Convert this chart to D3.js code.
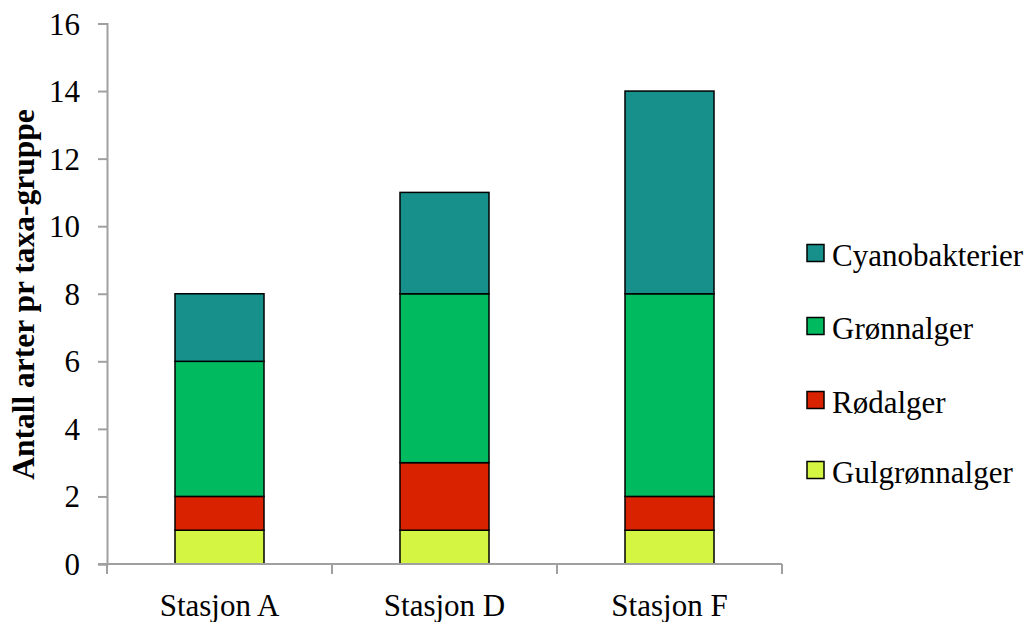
<!DOCTYPE html>
<html>
<head>
<meta charset="utf-8">
<script src="https://cdn.jsdelivr.net/npm/d3@7"></script>
<style>
  body { margin: 0; background: #fff; }
  text { font-family: "Liberation Serif", "DejaVu Serif", serif; fill: #000; }
</style>
</head>
<body>
<svg id="chart" width="1026" height="622"></svg>
<script>
const categories = ["Stasjon A", "Stasjon D", "Stasjon F"];
const seriesNames = ["Gulgrønnalger", "Rødalger", "Grønnalger", "Cyanobakterier"];
const gulgronnalger = [1, 1, 1];
const rodalger = [1, 2, 1];
const gronnalger = [4, 5, 6];
const cyanobakterier = [2, 3, 6];
const yTicks = [0, 2, 4, 6, 8, 10, 12, 14, 16];
const colors = ["#d4f542", "#d92200", "#00ba60", "#17908c"];
const yTitle = "Antall arter pr taxa-gruppe";

(function () {
const seriesValues = [gulgronnalger, rodalger, gronnalger, cyanobakterier];
const table = categories.map((c, i) => {
  const row = { cat: c };
  seriesNames.forEach((s, j) => row[s] = seriesValues[j][i]);
  return row;
});

const svg = d3.select("#chart");
const mLeft = 107, mRight = 782, mTop = 23.5, mBottom = 564;

const x = d3.scaleBand().domain(categories).range([mLeft, mRight]).paddingInner(0).paddingOuter(0);
const y = d3.scaleLinear().domain([0, 16]).range([mBottom, mTop]);

const stack = d3.stack().keys(seriesNames)(table);
const color = d3.scaleOrdinal().domain(seriesNames).range(colors);

const barW = 89;
svg.append("g").selectAll("g").data(stack).join("g")
  .attr("fill", d => color(d.key))
  .selectAll("rect").data(d => d).join("rect")
  .attr("x", d => x(d.data.cat) + x.bandwidth() / 2 - barW / 2)
  .attr("width", barW)
  .attr("y", d => y(d[1]))
  .attr("height", d => y(d[0]) - y(d[1]))
  .attr("stroke", "#000")
  .attr("stroke-width", 1.5);

// Y axis
const gy = svg.append("g").attr("transform", `translate(${mLeft},0)`)
  .call(d3.axisLeft(y).tickValues(yTicks).tickSize(9).tickPadding(18));
gy.select(".domain").attr("stroke", "#a0a0a0").attr("stroke-width", 2);
gy.selectAll(".tick line").attr("stroke", "#a0a0a0").attr("stroke-width", 2);
gy.selectAll(".tick text").style("font-family", "Liberation Serif, serif").style("font-size", "31px").attr("fill", "#000").attr("dy", "0.34em");

// X axis
const gx = svg.append("g").attr("transform", `translate(0,${mBottom})`);
gx.append("line").attr("x1", mLeft - 9).attr("x2", mRight).attr("stroke", "#a0a0a0").attr("stroke-width", 2);
const bounds = [mLeft, ...categories.map(c => x(c) + x.bandwidth())];
gx.selectAll("line.tk").data(bounds).join("line").attr("class", "tk")
  .attr("x1", d => d).attr("x2", d => d).attr("y1", 0).attr("y2", 10)
  .attr("stroke", "#a0a0a0").attr("stroke-width", 2);
gx.selectAll("text").data(categories).join("text")
  .attr("x", d => x(d) + x.bandwidth() / 2)
  .attr("y", 52)
  .attr("text-anchor", "middle")
  .style("font-size", "31px")
  .text(d => d);

// Y title
svg.append("text")
  .attr("transform", `translate(34,294.5) rotate(-90)`)
  .attr("text-anchor", "middle")
  .style("font-size", "31.5px")
  .style("font-weight", "bold")
  .text(yTitle);

// Legend
const legendItems = seriesNames.slice().reverse();
const legendY = [253, 326, 400, 470];
const lg = svg.append("g");
legendItems.forEach((name, i) => {
  const g = lg.append("g").attr("transform", `translate(807,${legendY[i]})`);
  g.append("rect").attr("x", 0).attr("y", -8.5).attr("width", 17).attr("height", 17)
    .attr("fill", color(name)).attr("stroke", "#000").attr("stroke-width", 1.5);
  g.append("text").attr("x", 25).attr("y", 13).style("font-size", "31px").text(name);
});
})();
</script>
</body>
</html>
